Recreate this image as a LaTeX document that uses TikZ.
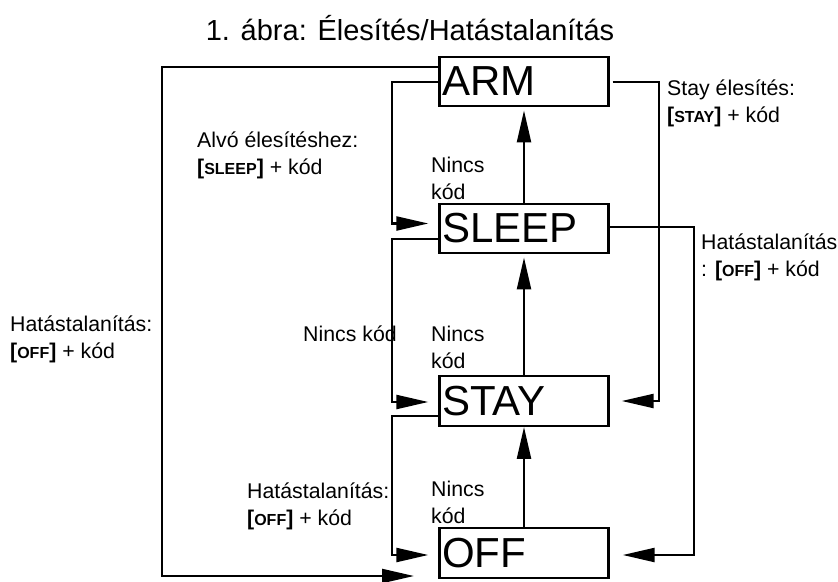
\documentclass[tikz,border=0pt]{standalone}
\usepackage{fontspec}
\setmainfont{Liberation Sans}
\usetikzlibrary{arrows.meta}
\tikzset{
  state/.style={draw,line width=2.4pt,minimum width=169pt,minimum height=49.5pt,
    text width=164pt,align=left,inner xsep=2.5pt,inner ysep=0pt,
    font=\fontsize{42}{42}\selectfont},
  lbl/.style={anchor=base west,align=left,inner sep=0pt,font=\fontsize{21.3}{27}\selectfont},
  arr/.style={line width=2.3pt,-{Triangle[length=32pt,width=14pt]}},
}
\newcommand{\keyname}[1]{\textbf{[{\fontsize{16}{16}\selectfont #1}]}}
\begin{document}
\begin{tikzpicture}[x=1pt,y=-1pt]
      \useasboundingbox (0,0) rectangle (838,581);
      \node[anchor=base,inner sep=0pt,font=\fontsize{29}{29}\selectfont] (title) at (410,40)
        {1. ábra: Élesítés/Hatástalanítás};
      \draw
        (524,81.5) node[state] (arm){ARM}
        (524,228.5) node[state] (sleep){SLEEP}
        (524,401) node[state] (stay){STAY}
        (524,553) node[state] (off){OFF};
      \draw
        (197,174) node[lbl] (alvo){Alvó élesítéshez:\\\keyname{SLEEP} + kód}
        (667,122) node[lbl] (stayl){Stay élesítés:\\\keyname{STAY} + kód}
        (431,199) node[lbl] (n1){Nincs\\kód}
        (701,276) node[lbl] (offr){Hatástalanítás\\: \keyname{OFF} + kód}
        (10,358) node[lbl] (offl){Hatástalanítás:\\\keyname{OFF} + kód}
        (303,341) node[lbl] (nk){Nincs kód}
        (431,368) node[lbl] (n2){Nincs\\kód}
        (247,525) node[lbl] (offm){Hatástalanítás:\\\keyname{OFF} + kód}
        (431,523) node[lbl] (n3){Nincs\\kód};
      \coordinate (corner) at (162,576);
      \coordinate (tip) at (414,576);
      \begin{scope}[arr]
        \draw (arm.west |- 0,67) -| (corner) -- (tip);
        \draw[shorten >=10pt] (arm.west |- 0,82) -- ++(-46,0) |- ([yshift=5pt]sleep.west);
        \draw[shorten >=10pt] (sleep.west |- 0,239) -- ++(-46,0) |- ([yshift=-1pt]stay.west);
        \draw[shorten >=10pt] (stay.west |- 0,416) -- ++(-46,0) |- ([yshift=-2pt]off.west);
        \draw[shorten <=3pt,shorten >=12pt] (arm.east |- 0,82) -- ++(49,0) |- (stay.east);
        \draw[shorten >=13pt] (sleep.east |- 0,227) -- ++(84,0) |- ([yshift=-2pt]off.east);
        \draw[shorten >=3pt] (sleep.north) -- (arm.south);
        \draw[shorten >=3pt] (stay.north) -- (sleep.south);
        \draw (off.north) -- (stay.south);
      \end{scope}
    \end{tikzpicture}
\end{document}
